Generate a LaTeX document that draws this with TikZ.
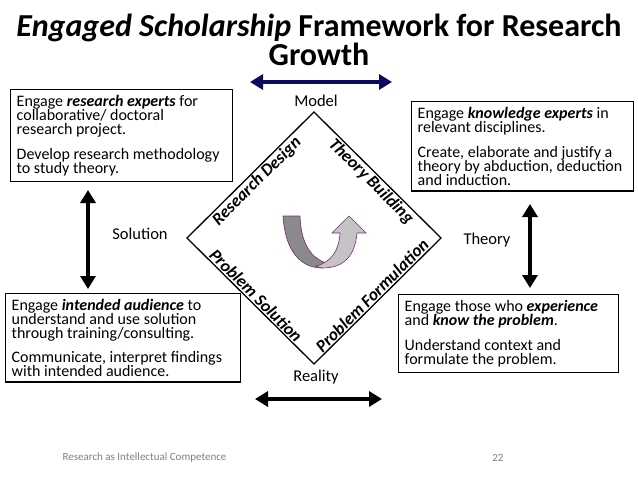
\documentclass[tikz,border=0pt]{standalone}
\usepackage{fontspec}
\setmainfont{Carlito}
\usetikzlibrary{arrows.meta,calc}
\definecolor{navyarrow}{HTML}{0A0A5E}
\definecolor{ribbonline}{HTML}{7A2A7A}
\definecolor{darkribbon}{HTML}{8A8A8A}
\definecolor{lightribbon}{HTML}{C4C4C4}
\definecolor{footgray}{HTML}{7F7F7F}
\tikzset{
  box/.style={draw, line width=1.4pt, anchor=north west, align=flush left, inner xsep=6pt, inner ysep=5.5pt,
    font=\fontsize{16}{14}\selectfont},
  corner/.style={font=\fontsize{16.5}{18}\selectfont},
  edgelabel/.style={font=\fontsize{17.3}{20}\selectfont\bfseries\itshape, inner sep=1.5pt},
  bigarrow/.style={line width=4pt, {Triangle[width=15pt,length=13pt]}-{Triangle[width=15pt,length=13pt]}},
  foot/.style={font=\fontsize{11}{12}\selectfont, text=footgray}
}
\begin{document}
\begin{tikzpicture}[x=1pt,y=-1pt]
\useasboundingbox (0,0) rectangle (638,479);
% title
\node[font=\fontsize{32}{27}\selectfont\bfseries, align=center, inner sep=0pt, anchor=north] (title) at (319,14)
  {\textit{Engaged Scholarship} Framework for Research\\Growth};
% diamond
\coordinate (top) at (314,112);
\coordinate (left) at (187,238);
\coordinate (bot) at (314,364);
\coordinate (right) at (441,238);
\draw[line width=1.3pt] (top) -- (right) -- (bot) -- (left) -- cycle;
% corner labels
\node[corner] (model) at (316,101) {Model};
\node[corner] (reality) at (316,377) {Reality};
\node[corner] (solution) at (140,234) {Solution};
\node[corner] (theory) at (487,240) {Theory};
% edge labels
\node[edgelabel, rotate=45, anchor=north] (rd) at ($(left)!0.5!(top)$) {Research Design};
\node[edgelabel, rotate=-45, anchor=north] (tb) at ($(top)!0.5!(right)$) {Theory Building};
\node[edgelabel, rotate=-45, anchor=south] (ps) at ($(left)!0.5!(bot)$) {Problem Solution};
\node[edgelabel, rotate=45, anchor=south] (pf) at ($(bot)!0.5!(right)$) {Problem Formulation};
% boxes
\node[box, text width=210pt] (tl) at (10,89)
  {Engage \textbf{\textit{research experts}} for\\collaborative/ doctoral\\research project.\\[11pt]Develop research methodology\\to study theory.};
\node[box, text width=210pt] (tr) at (411,101)
  {Engage \textbf{\textit{knowledge experts}} in\\relevant disciplines.\\[11pt]Create, elaborate and justify a\\theory by abduction, deduction\\and induction.};
\node[box, text width=223pt] (bl) at (5,293)
  {Engage \textbf{\textit{intended audience}} to\\understand and use solution\\through training/consulting.\\[10pt]Communicate, interpret findings\\with intended audience.};
\node[box, text width=208pt] (br) at (398,294)
  {Engage those who \textbf{\textit{experience}}\\and \textbf{\textit{know the problem}}.\\[11pt]Understand context and\\formulate the problem.};
% arrows
\coordinate (ma) at (250,82); \coordinate (mb) at (392,82);
\draw[bigarrow, navyarrow] (ma) -- (mb);
\coordinate (sa) at (88,190); \coordinate (sb) at (88,289);
\draw[bigarrow] (sa) -- (sb);
\coordinate (ta) at (530,204); \coordinate (tb2) at (530,288);
\draw[bigarrow] (ta) -- (tb2);
\coordinate (ra) at (255,399); \coordinate (rb) at (382,399);
\draw[bigarrow] (ra) -- (rb);
% curved arrow
\draw[ribbonline, fill=darkribbon, line width=0.6pt]
  (283,216) -- (300,216) .. controls (301,245) and (312,260) .. (330,264)
  -- (322,268) .. controls (300,268) and (285,250) .. cycle;
\draw[ribbonline, fill=lightribbon, line width=0.6pt]
  (316,266) .. controls (332,262) and (339,250) .. (340,233)
  -- (332,233) -- (349,216) -- (366,233) -- (357,233)
  .. controls (355,255) and (345,268) .. (322,268) -- cycle;
% footer
\node[foot, anchor=west] (f1) at (59,458) {Research as Intellectual Competence};
\node[foot, anchor=east] (f2) at (507,458) {22};
\end{tikzpicture}
\end{document}
